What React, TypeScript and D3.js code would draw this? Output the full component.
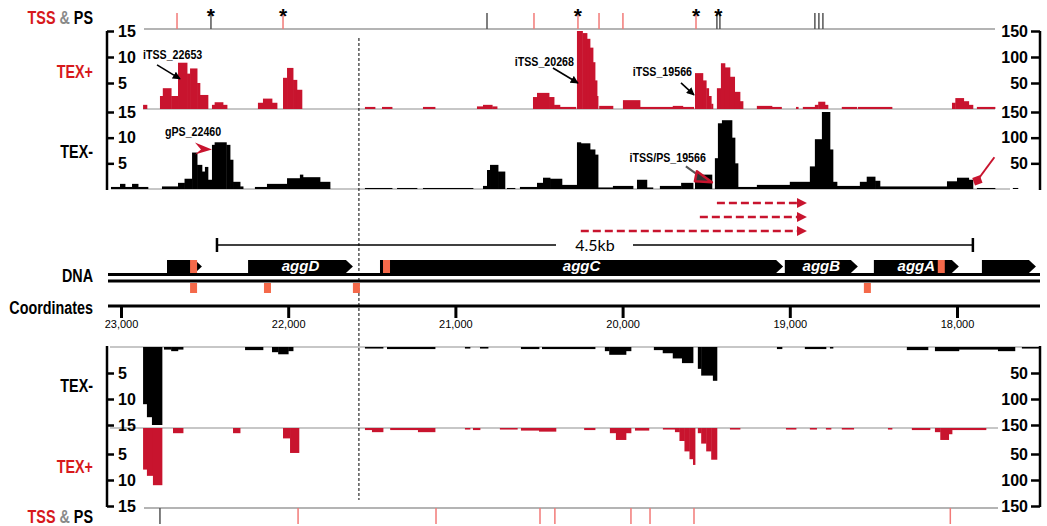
import React, { useEffect, useRef } from "react";
import * as d3 from "d3";

// genome coordinates in bp (view runs right to left on the genome)
const coordTicks = [23000, 22000, 21000, 20000, 19000, 18000];
const splitBp = 21577;

// coverage segments: [start bp, end bp, reads]
// left of the dashed line the scale is 0-15, right of it 0-150
const texPlusTopL = [
  [22868, 22845, 0.8],
  [22767, 22750, 2.5], [22750, 22700, 4], [22700, 22659, 2.5],
  [22659, 22605, 8.9], [22605, 22587, 6.8], [22587, 22545, 7.8], [22545, 22528, 5], [22528, 22480, 2.7],
  [22456, 22440, 0.8], [22440, 22390, 1.3], [22390, 22366, 0.8],
  [22181, 22151, 1.2], [22151, 22097, 2], [22097, 22067, 1.2],
  [22031, 22007, 6], [22007, 21971, 7.9], [21971, 21948, 5.6], [21948, 21918, 3.7],
];
const texPlusTopR = [
  [21541, 21481, 4], [21439, 21379, 4], [21194, 21122, 4],
  [20871, 20835, 5], [20835, 20780, 8], [20780, 20751, 5],
  [20536, 20512, 23], [20512, 20440, 31], [20440, 20410, 23], [20410, 20375, 8], [20375, 20280, 4],
  [20273, 20240, 150], [20240, 20213, 146], [20213, 20195, 135], [20195, 20177, 118], [20177, 20165, 90], [20165, 20153, 55], [20153, 20147, 25],
  [20140, 20058, 6],
  [19998, 19896, 17], [19896, 19700, 4], [19700, 19640, 6], [19640, 19575, 4],
  [19567, 19520, 69], [19520, 19500, 55], [19500, 19485, 40], [19485, 19470, 25], [19470, 19460, 10],
  [19436, 19412, 40], [19412, 19388, 88], [19388, 19358, 80], [19358, 19330, 62], [19330, 19298, 33], [19298, 19280, 15],
  [19197, 19107, 6], [19107, 19050, 4], [18963, 18950, 4], [18922, 18850, 4], [18850, 18830, 8], [18830, 18790, 14], [18790, 18772, 8],
  [18689, 18600, 4], [18593, 18389, 4],
  [18030, 18010, 12], [18010, 17960, 21], [17960, 17930, 15], [17930, 17905, 8], [17881, 17773, 4],
];
const texMinusTopL = [
  [23060, 23006, 0.4], [23006, 22976, 1], [22976, 22934, 0.4], [22934, 22898, 1], [22898, 22839, 0.4],
  [22755, 22659, 0.5],
  [22659, 22620, 1.2], [22620, 22575, 2],
  [22575, 22545, 7.1], [22545, 22516, 4.7], [22516, 22498, 3.4], [22498, 22480, 4.3], [22480, 22456, 1.8],
  [22456, 22440, 8.6], [22440, 22370, 9.1], [22370, 22348, 8.6], [22348, 22330, 5.7], [22330, 22288, 1.4], [22288, 22270, 0.5],
  [22199, 22127, 0.4], [22127, 22007, 1],
  [22007, 21930, 2.1], [21930, 21912, 2.8], [21912, 21810, 2.3], [21810, 21750, 1.4],
];
const texMinusTopR = [
  [21541, 21379, 2], [21349, 21230, 2], [21194, 20895, 2],
  [20835, 20811, 6], [20811, 20793, 37], [20793, 20745, 47], [20745, 20704, 34],
  [20692, 20644, 2],
  [20614, 20512, 4], [20512, 20476, 12], [20476, 20434, 22], [20434, 20363, 20], [20363, 20273, 8],
  [20273, 20250, 91], [20250, 20195, 89], [20195, 20165, 77], [20165, 20147, 67],
  [20147, 20060, 3], [20058, 19938, 6], [19914, 19855, 18], [19855, 19819, 3],
  [19777, 19650, 6], [19650, 19579, 12], [19567, 19466, 28],
  [19448, 19430, 60], [19430, 19406, 128], [19406, 19346, 134], [19346, 19328, 100], [19328, 19310, 50],
  [19310, 19197, 4], [19197, 19000, 8], [19000, 18880, 14], [18880, 18850, 44], [18850, 18808, 97], [18808, 18760, 150], [18760, 18742, 77], [18742, 18718, 14], [18718, 18581, 6],
  [18581, 18540, 14], [18540, 18490, 24], [18490, 18461, 16],
  [18461, 18060, 5],
  [18060, 18000, 15], [18000, 17930, 22], [17930, 17905, 18],
  [17881, 17773, 2], [17666, 17636, 2],
];
const texMinusBotL = [
  [22868, 22845, 11], [22845, 22815, 13.5], [22815, 22755, 15],
  [22743, 22700, 0.5], [22700, 22660, 0.8], [22660, 22629, 0.5],
  [22258, 22151, 0.6],
  [22097, 22060, 1], [22060, 22000, 1.4], [22000, 21971, 0.8],
];
const texMinusBotR = [
  [21541, 21433, 3], [21409, 21122, 4], [20943, 20913, 3], [20853, 20805, 3],
  [20608, 20500, 4], [20482, 20165, 4],
  [20106, 20080, 8], [20080, 19980, 15], [19980, 19950, 8],
  [19813, 19760, 6], [19760, 19700, 12], [19700, 19645, 22], [19645, 19579, 31],
  [19550, 19530, 42], [19530, 19460, 55], [19460, 19436, 65],
  [19077, 19047, 4], [18910, 18784, 4], [18760, 18742, 3],
  [18300, 18174, 6], [18132, 17989, 8], [17989, 17755, 5], [17755, 17654, 8], [17612, 17504, 3],
];
const texPlusBotL = [
  [22868, 22845, 8], [22845, 22809, 9.2], [22809, 22755, 11],
  [22689, 22629, 1], [22330, 22288, 1],
  [22031, 21989, 2], [21989, 21936, 4.8],
];
const texPlusBotR = [
  [21541, 21499, 4], [21499, 21433, 8], [21390, 21224, 4], [21224, 21122, 8], [20943, 20913, 3], [20895, 20853, 4],
  [20734, 20630, 3], [20608, 20500, 5], [20500, 20399, 7], [20230, 20165, 4],
  [20076, 20040, 10], [20040, 19980, 23], [19980, 19950, 10], [19926, 19843, 5], [19759, 19687, 3],
  [19687, 19660, 8], [19660, 19630, 25], [19630, 19600, 45], [19600, 19579, 60], [19579, 19567, 71],
  [19550, 19530, 10], [19530, 19500, 30], [19500, 19470, 45], [19470, 19436, 61],
  [19358, 19298, 3], [19023, 18963, 3], [18880, 18840, 3], [18784, 18754, 3], [18689, 18618, 3], [18413, 18389, 3], [18270, 18162, 4],
  [18132, 18100, 8], [18100, 18050, 23], [18050, 18030, 12], [18030, 17827, 4],
];

// TSS (red) and processing sites (grey), stars = annotated
const tssTop = [22665, 22031, 20530, 20267, 20141, 19998, 19561];
const psTop = [22462, 20811, 19436, 19418, 18850, 18826, 18802];
const starsTop = [22462, 22031, 20267, 19561, 19427];
const tssBot = [21941, 21116, 20494, 20405, 19950, 19836, 19573, 18040];
const psBot = [22767];

const genes = [
  { name: "", start: 22725, end: 22516 },
  { name: "aggD", start: 22240, end: 21613 },
  { name: "aggC", start: 21451, end: 19040 },
  { name: "aggB", start: 19030, end: 18593 },
  { name: "aggA", start: 18497, end: 17989 },
  { name: "", start: 17851, end: 17528 },
];
const marksUpper = [22566, 21412, 18094];
const marksLower = [22566, 22124, 21592, 18536];

const transcripts = [[19436, 18898], [19538, 18898], [20250, 18898]];
const scaleBar = [22426, 17905];

const RED = "#c8142e";
const TICKRED = "#f27a78";
const GREY = "#b4b4b4";
const SANS = "'Liberation Sans', Arial, sans-serif";

export default function App() {
  const ref = useRef<SVGSVGElement>(null);

  useEffect(() => {
    const svg = d3.select(ref.current);
    svg.selectAll("*").remove();

    const x = d3.scaleLinear().domain([23000, 18000]).range([121, 957]);

    const mk = (max: number, y0: number, y1: number) =>
      d3.scaleLinear().domain([0, max]).range([y0, y1]).clamp(true);

    // condensed bold text (no narrow font installed, so squeeze it)
    const narrow = (tx: number, ty: number, size: number, anchor = "start") =>
      svg.append("text").attr("transform", `translate(${tx},${ty}) scale(0.82,1)`)
        .attr("text-anchor", anchor).attr("font-family", SANS)
        .attr("font-weight", "bold").attr("font-size", size);

    const panels = [
      { l: texPlusTopL, r: texPlusTopR, y0: 109, y1: 31, color: RED, lineFrom: 143, lineTo: 995 },
      { l: texMinusTopL, r: texMinusTopR, y0: 189, y1: 112, color: "#000", lineFrom: 111, lineTo: 1010 },
      { l: texMinusBotL, r: texMinusBotR, y0: 347, y1: 425, color: "#000", lineFrom: 110, lineTo: 1040 },
      { l: texPlusBotL, r: texPlusBotR, y0: 428, y1: 506, color: RED, lineFrom: 110, lineTo: 998 },
    ];

    panels.forEach((p) => {
      svg.append("line")
        .attr("x1", p.lineFrom).attr("x2", p.lineTo)
        .attr("y1", p.y0).attr("y2", p.y0)
        .attr("stroke", GREY).attr("stroke-width", 1.5);
      [
        { segs: p.l, y: mk(15, p.y0, p.y1) },
        { segs: p.r, y: mk(150, p.y0, p.y1) },
      ].forEach(({ segs, y }) => {
        svg.append("g").selectAll("rect").data(segs).join("rect")
          .attr("x", (d) => x(d[0]))
          .attr("width", (d) => x(d[1]) - x(d[0]) + 0.4)
          .attr("y", (d) => Math.min(y(d[2]), p.y0))
          .attr("height", (d) => Math.max(1, Math.abs(y(d[2]) - p.y0)))
          .attr("fill", p.color);
      });
    });

    // y axes
    const axisStyle = (g: any) => {
      g.select(".domain").remove();
      g.selectAll("line").attr("stroke", "#000").attr("stroke-width", 2.5);
      g.selectAll("text").attr("font-family", SANS).attr("font-weight", "bold")
        .attr("font-size", 16).attr("fill", "#000");
    };
    panels.forEach((p) => {
      svg.append("g").attr("transform", "translate(107,0)")
        .call(d3.axisRight(mk(15, p.y0, p.y1)).tickValues([5, 10, 15]).tickSize(7).tickPadding(4))
        .call(axisStyle);
      svg.append("g").attr("transform", "translate(1040,0)")
        .call(d3.axisLeft(mk(150, p.y0, p.y1)).tickValues([50, 100, 150]).tickSize(9).tickPadding(3))
        .call(axisStyle);
    });
    [[31, 190], [346, 507]].forEach(([a, b]) => {
      svg.append("line").attr("x1", 107).attr("x2", 107).attr("y1", a).attr("y2", b)
        .attr("stroke", "#000").attr("stroke-width", 2.5);
      svg.append("line").attr("x1", 1040).attr("x2", 1040).attr("y1", a).attr("y2", b)
        .attr("stroke", "#000").attr("stroke-width", 2.5);
    });

    // TSS & PS tracks
    const tssTrack = (yLine: number, dir: number, red: number[], grey: number[], stars: number[]) => {
      svg.append("line").attr("x1", 144).attr("x2", yLine < 100 ? 995 : 998)
        .attr("y1", yLine).attr("y2", yLine).attr("stroke", GREY).attr("stroke-width", 2);
      svg.append("g").selectAll("line").data(red).join("line")
        .attr("x1", (d) => x(d)).attr("x2", (d) => x(d))
        .attr("y1", yLine).attr("y2", yLine + dir * 16)
        .attr("stroke", TICKRED).attr("stroke-width", 1.5);
      svg.append("g").selectAll("line").data(grey).join("line")
        .attr("x1", (d) => x(d)).attr("x2", (d) => x(d))
        .attr("y1", yLine).attr("y2", yLine + dir * 16)
        .attr("stroke", "#555").attr("stroke-width", 1.5);
      svg.append("g").selectAll("text").data(stars).join("text")
        .attr("x", (d) => x(d)).attr("y", yLine - 6)
        .attr("text-anchor", "middle").attr("font-family", SANS)
        .attr("font-weight", "bold").attr("font-size", 21).text("*");
    };
    tssTrack(29, -1, tssTop, psTop, starsTop);
    tssTrack(508, 1, tssBot, psBot, []);

    // dashed split line
    svg.append("line").attr("x1", x(splitBp)).attr("x2", x(splitBp))
      .attr("y1", 38).attr("y2", 500)
      .attr("stroke", "#000").attr("stroke-width", 1).attr("stroke-dasharray", "3,2");

    // arrowheads
    const defs = svg.append("defs");
    defs.append("marker").attr("id", "blk").attr("viewBox", "0 0 10 10")
      .attr("refX", 9).attr("refY", 5).attr("markerWidth", 5).attr("markerHeight", 5)
      .attr("markerUnits", "strokeWidth").attr("orient", "auto")
      .append("path").attr("d", "M0,0L10,5L0,10Z").attr("fill", "#000");
    defs.append("marker").attr("id", "redhead").attr("viewBox", "0 0 10 10")
      .attr("refX", 2).attr("refY", 5).attr("markerWidth", 4.2).attr("markerHeight", 4.2)
      .attr("markerUnits", "strokeWidth").attr("orient", "auto")
      .append("path").attr("d", "M0,0L10,5L0,10Z").attr("fill", RED);

    // annotations
    const yPT = mk(15, 109, 31), yPTR = mk(150, 109, 31);
    const yMT = mk(15, 189, 112), yMTR = mk(150, 189, 112);
    const label = (tx: number, ty: number, t: string, anchor = "start") =>
      narrow(tx, ty, 13, anchor).text(t);
    const arrow = (x1: number, y1: number, x2: number, y2: number) =>
      svg.append("line").attr("x1", x1).attr("y1", y1).attr("x2", x2).attr("y2", y2)
        .attr("stroke", "#000").attr("stroke-width", 1.6).attr("marker-end", "url(#blk)");

    const a1 = [x(22647), yPT(5.8)];
    label(a1[0] - 37, a1[1] - 20, "iTSS_22653");
    arrow(a1[0] - 23, a1[1] - 14, a1[0], a1[1]);
    const a2 = [x(20267), yPTR(50)];
    label(a2[0] - 4, a2[1] - 17, "iTSS_20268", "end");
    arrow(a2[0] - 25, a2[1] - 15, a2[0], a2[1]);
    const a3 = [x(19573), yPTR(27)];
    label(a3[0] - 2, a3[1] - 19, "iTSS_19566", "end");
    arrow(a3[0] - 13, a3[1] - 12, a3[0], a3[1]);

    const a4 = [x(22456), yMT(7.7)];
    label(a4[0] - 47, a4[1] - 13, "gPS_22460");
    svg.append("path")
      .attr("d", `M${a4[0]},${a4[1]} L${a4[0] - 17},${a4[1] - 7} L${a4[0] - 11},${a4[1]} L${a4[0] - 17},${a4[1] + 5} Z`)
      .attr("fill", RED);

    const a5 = [x(19466), yMTR(13)];
    label(a5[0] - 6, a5[1] - 20, "iTSS/PS_19566", "end");
    svg.append("line").attr("x1", a5[0] - 26).attr("y1", a5[1] - 16)
      .attr("x2", a5[0] - 12).attr("y2", a5[1] - 6)
      .attr("stroke", "#555").attr("stroke-width", 2);
    svg.append("path")
      .attr("d", `M${a5[0]},${a5[1]} L${a5[0] - 15},${a5[1] - 11} L${a5[0] - 17},${a5[1] - 1} Z`)
      .attr("fill", "#333").attr("stroke", RED).attr("stroke-width", 2.5).attr("stroke-linejoin", "round");

    const a6 = [x(17878), yMTR(17)];
    svg.append("line").attr("x1", a6[0]).attr("y1", a6[1])
      .attr("x2", a6[0] + 17).attr("y2", a6[1] - 23)
      .attr("stroke", RED).attr("stroke-width", 2);
    svg.append("rect").attr("x", a6[0] - 4).attr("y", a6[1] - 4)
      .attr("width", 8).attr("height", 8).attr("fill", RED)
      .attr("transform", `rotate(-20,${a6[0]},${a6[1]})`);

    // dashed transcripts
    svg.append("g").selectAll("line").data(transcripts).join("line")
      .attr("x1", (d) => x(d[0])).attr("x2", (d) => x(d[1]) - 8)
      .attr("y1", (d, i) => 203 + i * 14).attr("y2", (d, i) => 203 + i * 14)
      .attr("stroke", RED).attr("stroke-width", 2.4).attr("stroke-dasharray", "8,4")
      .attr("marker-end", "url(#redhead)");

    // 4.5kb scale bar
    const sb0 = x(scaleBar[0]), sb1 = x(scaleBar[1]);
    svg.append("line").attr("x1", sb0).attr("x2", 556).attr("y1", 245).attr("y2", 245)
      .attr("stroke", "#000").attr("stroke-width", 1.6);
    svg.append("line").attr("x1", 633).attr("x2", sb1).attr("y1", 245).attr("y2", 245)
      .attr("stroke", "#000").attr("stroke-width", 1.6);
    [sb0, sb1].forEach((v) => svg.append("line").attr("x1", v).attr("x2", v)
      .attr("y1", 238).attr("y2", 252).attr("stroke", "#000").attr("stroke-width", 2.5));
    svg.append("text").attr("x", 595).attr("y", 251).attr("text-anchor", "middle")
      .attr("font-family", "Lato, 'Open Sans', sans-serif").attr("font-size", 16).text("4.5kb");

    // DNA lines and genes
    [274.5, 281].forEach((yy) => svg.append("line").attr("x1", 108).attr("x2", 1040)
      .attr("y1", yy).attr("y2", yy).attr("stroke", "#000").attr("stroke-width", 3));
    const gy0 = 260, gy1 = 273;
    svg.append("g").selectAll("path").data(genes).join("path")
      .attr("d", (d) => {
        const a = x(d.start), b = x(d.end), tip = 7;
        return `M${a},${gy0}L${b - tip},${gy0}L${b},${(gy0 + gy1) / 2}L${b - tip},${gy1}L${a},${gy1}Z`;
      })
      .attr("fill", "#000");
    svg.append("g").selectAll("text").data(genes.filter((g) => g.name)).join("text")
      .attr("x", (d) => (x(d.start) + x(d.end)) / 2).attr("y", gy1 - 2)
      .attr("text-anchor", "middle").attr("fill", "#fff")
      .attr("font-family", SANS).attr("font-style", "italic").attr("font-weight", "bold")
      .attr("font-size", 15).text((d) => d.name);
    svg.append("g").selectAll("rect").data(marksUpper).join("rect")
      .attr("x", (d) => x(d) - 3.5).attr("width", 7).attr("y", gy0).attr("height", gy1 - gy0)
      .attr("fill", "#f4694a");
    svg.append("g").selectAll("rect").data(marksLower).join("rect")
      .attr("x", (d) => x(d) - 3.5).attr("width", 7).attr("y", 283).attr("height", 10)
      .attr("fill", "#f4694a");

    // coordinate axis
    svg.append("line").attr("x1", 108).attr("x2", 1040).attr("y1", 306).attr("y2", 306)
      .attr("stroke", "#000").attr("stroke-width", 3);
    const cax = svg.append("g").attr("transform", "translate(0,306)")
      .call(d3.axisBottom(x).tickValues(coordTicks).tickFormat(d3.format(",")).tickSize(12).tickPadding(2));
    cax.select(".domain").remove();
    cax.selectAll("line").attr("stroke", "#000").attr("stroke-width", 3);
    cax.selectAll("text").attr("font-family", SANS).attr("font-size", 11).attr("fill", "#000");

    // row labels
    const rowLabel = (yy: number, parts: [string, string][]) => {
      const t = narrow(93, yy, 17.5, "end");
      parts.forEach(([s, c]) => t.append("tspan").attr("fill", c).text(s));
    };
    const tssParts: [string, string][] = [["TSS", "#d7191c"], [" & ", "#8a8a8a"], ["PS", "#000"]];
    rowLabel(24, tssParts);
    rowLabel(78, [["TEX+", "#d7191c"]]);
    rowLabel(158, [["TEX-", "#000"]]);
    rowLabel(282, [["DNA", "#000"]]);
    rowLabel(314, [["Coordinates", "#000"]]);
    rowLabel(392, [["TEX-", "#000"]]);
    rowLabel(473, [["TEX+", "#d7191c"]]);
    rowLabel(523, tssParts);
  }, []);

  return (
    <svg
      ref={ref}
      width={1047}
      height={526}
      style={{ position: "absolute", left: 0, top: 0, background: "#fff" }}
    />
  );
}
